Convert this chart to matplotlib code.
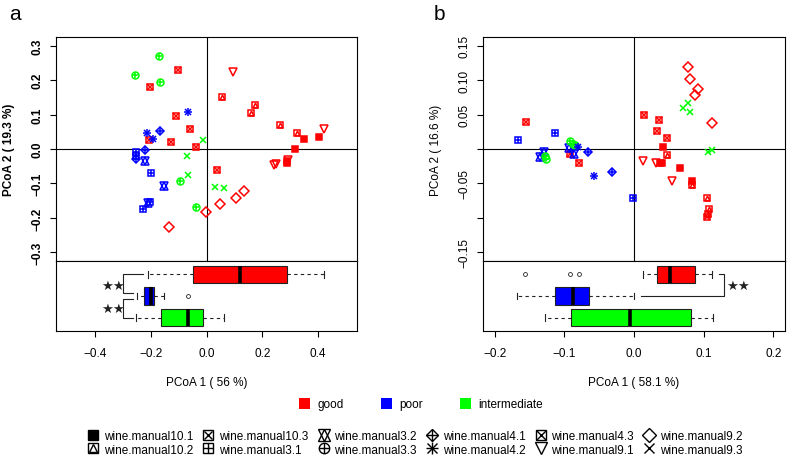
import matplotlib
matplotlib.use('Agg')
import matplotlib.pyplot as plt
from matplotlib.lines import Line2D
from matplotlib.patches import Patch

plt.rcParams.update({
    "font.family": ["Liberation Sans", "DejaVu Sans"],
    "font.size": 8.5,
    "axes.linewidth": 0.8,
})

# ---------------- data ----------------
GROUPS = ["good", "poor", "intermediate"]
GROUP_COLORS = ["#FF0000", "#0000FF", "#00FF00"]

WINES = ["wine.manual10.1", "wine.manual10.2", "wine.manual10.3", "wine.manual3.1",
         "wine.manual3.2", "wine.manual3.3", "wine.manual4.1", "wine.manual4.2",
         "wine.manual4.3", "wine.manual9.1", "wine.manual9.2", "wine.manual9.3"]
WINE_GROUP = ["good", "good", "good", "poor", "poor", "intermediate",
              "poor", "poor", "good", "good", "good", "intermediate"]

# panel a: PCoA coordinates per sample
A_WINE = (["10.1"] * 5 + ["10.2"] * 5 + ["10.3"] * 4 + ["4.3"] * 4 + ["9.1"] * 5
          + ["9.2"] * 5 + ["3.1"] * 5 + ["3.2"] * 3 + ["3.3"] * 5 + ["4.1"] * 3
          + ["4.2"] * 3 + ["9.3"] * 5)
A_X = [0.351, 0.403, 0.319, 0.288, 0.290,
       0.057, 0.158, 0.173, 0.263, 0.325,
       -0.104, -0.203, -0.111, -0.061,
       -0.208, -0.129, -0.037, 0.038,
       0.094, 0.421, 0.241, 0.250, 0.293,
       -0.134, -0.001, 0.049, 0.104, 0.135,
       -0.252, -0.252, -0.198, -0.202, -0.228,
       -0.222, -0.151, -0.210,
       -0.170, -0.256, -0.166, -0.097, -0.039,
       -0.166, -0.222, -0.252,
       -0.067, -0.214, -0.192,
       -0.014, -0.070, -0.067, 0.031, 0.062]
A_Y = [0.030, 0.034, 0.001, -0.042, -0.036,
       0.150, 0.105, 0.129, 0.071, 0.047,
       0.229, 0.180, 0.097, 0.058,
       0.025, 0.020, 0.005, -0.062,
       0.222, 0.059, -0.047, -0.043, -0.031,
       -0.227, -0.184, -0.161, -0.141, -0.121,
       -0.010, -0.019, -0.070, -0.153, -0.174,
       -0.036, -0.108, -0.157,
       0.270, 0.216, 0.195, -0.094, -0.169,
       0.053, -0.002, -0.029,
       0.108, 0.046, 0.029,
       0.026, -0.021, -0.075, -0.111, -0.114]

# panel b
B_WINE = (["10.1"] * 5 + ["10.2"] * 5 + ["10.3"] * 5 + ["4.3"] * 3 + ["9.1"] * 3
          + ["9.2"] * 5 + ["3.1"] * 3 + ["3.2"] * 4 + ["3.3"] * 5 + ["4.1"] * 2
          + ["4.2"] * 2 + ["9.3"] * 5)
B_X = [0.041, 0.040, 0.037, 0.066, 0.084,
       0.048, 0.083, 0.105, 0.108, 0.106,
       0.014, 0.036, 0.033, 0.048, 0.105,
       -0.155, -0.092, -0.079,
       0.013, 0.031, 0.054,
       0.077, 0.080, 0.092, 0.088, 0.112,
       -0.167, -0.113, -0.001,
       -0.129, -0.135, -0.094, -0.086,
       -0.126, -0.128, -0.092, -0.085, -0.088,
       -0.066, -0.031,
       -0.080, -0.058,
       0.078, 0.070, 0.081, 0.106, 0.112]
B_Y = [0.003, -0.021, -0.020, -0.028, -0.046,
       -0.009, -0.053, -0.071, -0.088, -0.094,
       0.050, 0.042, 0.026, 0.016, -0.099,
       0.040, -0.007, -0.020,
       -0.017, -0.020, -0.046,
       0.119, 0.102, 0.087, 0.079, 0.038,
       0.013, 0.023, -0.071,
       -0.004, -0.011, 0.001, -0.007,
       -0.014, -0.010, 0.012, 0.006, 0.008,
       -0.004, -0.033,
       0.003, -0.040,
       0.067, 0.059, 0.054, -0.005, -0.002]

# boxplot summaries of PCoA 1 per group (good, poor, intermediate)
A_WHISK_LO = [-0.211, -0.251, -0.253]
A_Q1 = [-0.048, -0.223, -0.165]
A_MED = [0.119, -0.201, -0.068]
A_Q3 = [0.290, -0.190, -0.014]
A_WHISK_HI = [0.422, -0.153, 0.062]
A_FLIERS = [[], [-0.065], []]

B_WHISK_LO = [0.013, -0.168, -0.128]
B_Q1 = [0.033, -0.114, -0.091]
B_MED = [0.051, -0.0875, -0.006]
B_Q3 = [0.087, -0.065, 0.082]
B_WHISK_HI = [0.112, 0.0, 0.113]
B_FLIERS = [[-0.156, -0.092, -0.079], [], []]

# marker layers per wine: (marker, size, filled)
MARKERS = {
    "10.1": [("s", 4.4, True)],
    "10.2": [("s", 4.8, False), ("^", 3.4, False)],
    "10.3": [("s", 4.8, False), ("x", 3.8, False)],
    "3.1": [("s", 4.8, False), ("+", 4.8, False)],
    "3.2": [("^", 5.3, False), ("v", 5.3, False)],
    "3.3": [("o", 5.0, False), ("+", 5.0, False)],
    "4.1": [("D", 4.4, False), ("+", 6.2, False)],
    "4.2": [("+", 6.2, False), ("x", 4.8, False)],
    "4.3": [("s", 4.8, False), ("x", 4.8, False)],
    "9.1": [("v", 5.8, False)],
    "9.2": [("D", 4.7, False)],
    "9.3": [("x", 5.0, False)],
}


def draw_point(ax, x, y, key, color, mew=1.1, scale=1.0):
    handles = []
    for mk, ms, filled in MARKERS[key]:
        h = Line2D([x], [y], linestyle="none", marker=mk, markersize=ms * scale,
                   markerfacecolor=color if filled else "none",
                   markeredgecolor=color, markeredgewidth=mew)
        if ax is not None:
            ax.add_line(h)
        handles.append(h)
    return tuple(handles)


def color_for(key):
    g = WINE_GROUP[WINES.index("wine.manual" + key)]
    return GROUP_COLORS[GROUPS.index(g)]


def make_panel(fig, left, width, xs, ys, keys, lim_x, lim_y, yticks, ylabels,
               xticks, xlabels, xlab, ylab, bold_y, stats):
    ax = fig.add_axes([left, 0.4254, width, 0.4913])
    axb = fig.add_axes([left, 0.2719, width, 0.1535])

    ax.axhline(0, color="black", lw=0.8, zorder=1)
    ax.axvline(0, color="black", lw=0.8, zorder=1)
    for x, y, k in zip(xs, ys, keys):
        draw_point(ax, x, y, k, color_for(k))
    ax.set_xlim(-lim_x, lim_x)
    ax.set_ylim(-lim_y, lim_y)
    ax.set_xticks([])
    ax.set_yticks(yticks)
    ax.set_yticklabels(ylabels)
    ax.tick_params(axis="y", length=4.3, width=0.8, pad=5, labelrotation=90)
    plt.setp(ax.get_yticklabels(), va="center")
    weight = "bold" if bold_y else "normal"
    if bold_y:
        plt.setp(ax.get_yticklabels(), fontweight="bold")
    ax.set_ylabel(ylab, fontweight=weight)
    ax.yaxis.set_label_coords(-0.135, 0.5)

    lo, q1, med, q3, hi, fl = stats
    bstats = []
    for i in range(3):
        bstats.append(dict(whislo=lo[i], q1=q1[i], med=med[i], q3=q3[i],
                           whishi=hi[i], fliers=fl[i]))
    bp = axb.bxp(bstats, positions=[1, 2, 3], widths=0.8, orientation="horizontal",
                 patch_artist=True, capwidths=0.3,
                 boxprops=dict(edgecolor="#222222", linewidth=0.8),
                 medianprops=dict(color="black", linewidth=2.6, solid_capstyle="butt"),
                 whiskerprops=dict(color="#222222", linewidth=0.8, linestyle=(0, (3, 3))),
                 capprops=dict(color="#222222", linewidth=0.8),
                 flierprops=dict(marker="o", markersize=2.8, markerfacecolor="none",
                                 markeredgecolor="#222222", markeredgewidth=0.6))
    for patch, c in zip(bp["boxes"], GROUP_COLORS):
        patch.set_facecolor(c)
    axb.set_xlim(-lim_x, lim_x)
    axb.set_ylim(3.62, 0.38)
    axb.set_yticks([])
    axb.set_xticks(xticks)
    axb.set_xticklabels(xlabels)
    axb.tick_params(axis="x", length=4.3, width=0.8, pad=7.5)
    axb.set_xlabel(xlab)
    axb.xaxis.set_label_coords(0.5, -0.64)
    return ax, axb


fig = plt.figure(figsize=(7.87, 4.56), dpi=100)

axa, axa_b = make_panel(
    fig, 0.0712, 0.3825, A_X, A_Y, A_WINE, 0.54, 0.325,
    [-0.3, -0.2, -0.1, 0.0, 0.1, 0.2, 0.3],
    ["\u22120.3", "\u22120.2", "\u22120.1", "0.0", "0.1", "0.2", "0.3"],
    [-0.4, -0.2, 0.0, 0.2, 0.4], ["\u22120.4", "\u22120.2", "0.0", "0.2", "0.4"],
    "PCoA 1 ( 56 %)", "PCoA 2 ( 19.3 %)", True,
    (A_WHISK_LO, A_Q1, A_MED, A_Q3, A_WHISK_HI, A_FLIERS))

axb_s, axb_b = make_panel(
    fig, 0.6137, 0.3838, B_X, B_Y, B_WINE, 0.217, 0.163,
    [-0.15, -0.10, -0.05, 0.0, 0.05, 0.10, 0.15],
    ["\u22120.15", "", "\u22120.05", "", "0.05", "0.10", "0.15"],
    [-0.2, -0.1, 0.0, 0.1, 0.2], ["\u22120.2", "\u22120.1", "0.0", "0.1", "0.2"],
    "PCoA 1 ( 58.1 %)", "PCoA 2 ( 16.6 %)", False,
    (B_WHISK_LO, B_Q1, B_MED, B_Q3, B_WHISK_HI, B_FLIERS))

# significance brackets
bk = dict(color="#222222", lw=0.8)
axa_b.plot([-0.227, -0.299, -0.299, -0.263], [1, 1, 1.87, 1.87], **bk)
axa_b.plot([-0.263, -0.299, -0.299, -0.263], [2.13, 2.13, 3, 3], **bk)
star = dict(ha="center", va="center", fontsize=9.5, family="DejaVu Sans", color="#222222")
axa_b.text(-0.334, 1.52, "\u2605\u2605", **star)
axa_b.text(-0.334, 2.57, "\u2605\u2605", **star)
axb_b.plot([0.122, 0.130, 0.130, 0.0096], [1, 1, 2, 2], **bk)
axb_b.text(0.150, 1.52, "\u2605\u2605", **star)

fig.text(0.012, 0.988, "a", fontsize=15, va="top")
fig.text(0.551, 0.988, "b", fontsize=15, va="top")

# group legend
g_handles = [Patch(facecolor=c, edgecolor="none") for c in GROUP_COLORS]
fig.legend(g_handles, GROUPS, ncol=3, loc="center", bbox_to_anchor=(0.535, 0.112),
           frameon=False, handlelength=0.9, handleheight=1.1, handletextpad=0.6,
           columnspacing=3.2, fontsize=8.5)

# wine legend
w_handles = []
for w in WINES:
    w_handles.append(draw_point(None, 0, 0, w.replace("wine.manual", ""), "black",
                                mew=1.0, scale=1.5))
fig.legend(w_handles, WINES, ncol=6, loc="center", bbox_to_anchor=(0.527, 0.027),
           frameon=False, handlelength=1.0, handletextpad=0.4, columnspacing=0.8,
           labelspacing=0.15, fontsize=8.5, numpoints=1)

fig.savefig("out.png", dpi=100)
